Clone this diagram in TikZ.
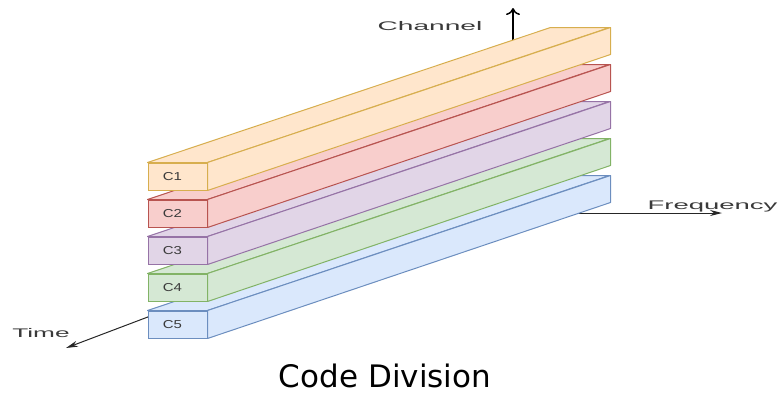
\documentclass[tikz,border=0pt]{standalone}
\usepackage{fontspec}
\setmainfont{Liberation Sans}
\newfontfamily\titlefont{DejaVu Sans}
\usetikzlibrary{arrows.meta}

% bar colours: fill / outline
\definecolor{fillA}{HTML}{FFE6CC}\definecolor{lineA}{HTML}{D7AE4E}
\definecolor{fillB}{HTML}{F8CECC}\definecolor{lineB}{HTML}{B85450}
\definecolor{fillC}{HTML}{E1D5E7}\definecolor{lineC}{HTML}{9673A6}
\definecolor{fillD}{HTML}{D5E8D4}\definecolor{lineD}{HTML}{82B366}
\definecolor{fillE}{HTML}{DAE8FC}\definecolor{lineE}{HTML}{6C8EBF}
\definecolor{labelgray}{HTML}{3A3A3A}

\begin{document}
\begin{tikzpicture}[x=1pt,y=-1pt,
  frontface/.style={draw=#1, rectangle, minimum width=59pt, minimum height=27pt,
    inner sep=0pt, line width=1pt, text=labelgray,
    font=\fontsize{11.5}{13}\selectfont},
  sideface/.style={line width=1pt, line join=round},
  axis/.style={draw=black!85, line width=1pt, -{Stealth[length=12pt,width=6pt]}},
  upaxis/.style={draw=black, line width=1.5pt, -{To[length=7pt,width=14pt]}},
  axislabel/.style={anchor=base, text=labelgray, inner sep=0pt,
    font=\fontsize{12.5}{14}\selectfont},
  title/.style={anchor=base, inner sep=0pt, font=\titlefont\fontsize{31}{36}\selectfont}
]
\useasboundingbox (0,0) rectangle (778,394);

% axes (their inner ends disappear behind the bars)
\coordinate (tstart) at (175,306.7);
\coordinate (tend) at (66,348);
\coordinate (fstart) at (560,213);
\coordinate (fend) at (722,213);
\coordinate (cstart) at (513,55);
\coordinate (cend) at (513,8);
\draw[axis] (tstart) -- (tend);
\draw[axis] (fstart) -- (fend);
\draw[upaxis] (cstart) -- (cend);

% code bars, back one first
\foreach \i/\fc/\lc in {5/fillE/lineE, 4/fillD/lineD, 3/fillC/lineC, 2/fillB/lineB, 1/fillA/lineA}{
  \pgfmathsetmacro{\ytop}{163+37*(\i-1)}
  \node[frontface=\lc, fill=\fc] (c\i) at (177.5,\ytop+13.5)
    {\scalebox{1.3}[1]{C\i}\kern10pt};
  % top face
  \filldraw[sideface, fill=\fc, draw=\lc]
    (c\i.north west) -- ++(403,-135) -- ++(59,0) -- (c\i.north east) -- cycle;
  % long side face
  \filldraw[sideface, fill=\fc, draw=\lc]
    (c\i.north east) -- ++(403,-135) -- ++(0,27) -- (c\i.south east) -- cycle;
}

% axis names
\node[axislabel] (tlabel) at (41,337) {\scalebox{2.1}[1]{Time}};
\node[axislabel] (flabel) at (712.5,209) {\scalebox{2.2}[1]{Frequency}};
\node[axislabel] (clabel) at (430,30) {\scalebox{2.25}[1]{Channel}};

% caption
\node[title] (caption) at (385,387) {Code Division};
\end{tikzpicture}
\end{document}
